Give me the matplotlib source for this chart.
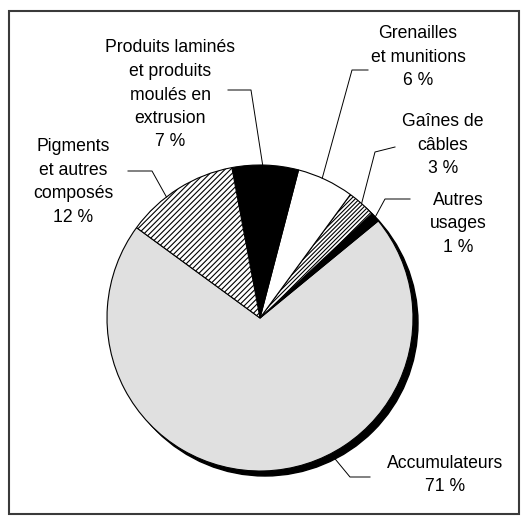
"""
Pie chart: usages du plomb (reproduction).
"""

import numpy as np
import matplotlib
matplotlib.use('Agg')
import matplotlib.pyplot as plt
from matplotlib.patches import Circle, Rectangle

plt.rcParams['font.family'] = ['Liberation Sans', 'DejaVu Sans']
plt.rcParams['hatch.linewidth'] = 0.8

# data (counter-clockwise order, starting at the Accumulateurs/Pigments border)
labels = ['Accumulateurs', 'Autres\nusages', 'Gaînes de\ncâbles',
          'Grenailles\net munitions', 'Produits laminés\net produits\nmoulés en\nextrusion',
          'Pigments\net autres\ncomposés']
shares = [71, 1, 3, 6, 7, 12]
colors = ['#e0e0e0', 'black', 'white', 'white', 'black', 'white']
hatches = [None, None, '////////', None, None, '//////']

W, H = 527, 516
cx, cy, r = 260, H - 318, 153
start = 143.8

fig = plt.figure(figsize=(W / 100, H / 100), dpi=100)
ax = fig.add_axes([0, 0, 1, 1])

# shadow
ax.add_patch(Circle((cx + 5, cy - 5), r, color='black', zorder=0))

wedges, _ = ax.pie(shares, colors=colors, startangle=start, counterclock=True,
                   center=(cx, cy), radius=r, frame=True,
                   wedgeprops=dict(edgecolor='black', linewidth=0.8))
for w, h in zip(wedges, hatches):
    if h:
        w.set_hatch(h)
ax.set_xlim(0, W)
ax.set_ylim(0, H)
ax.axis('off')

# label layout: text centre (px, top-down), edge angle, leader path (px, top-down)
layout = [
    ((445, 475), 298.0, [(350, 477), (370, 477)], 6),
    ((458, 224), 41.2, [(385, 199), (410, 199)], 0),
    ((443, 145), 48.4, [(375, 152), (395, 147)], 0),
    ((418, 57), 66.0, [(352, 70), (368, 70)], 0),
    ((170, 95), 89.0, [(251, 90), (228, 90)], 0),
    ((73, 182), 127.7, [(152, 171), (128, 171)], 0),
]

for lab, pct, ((tx, ty), ang, path, extra) in zip(labels, shares, layout):
    ax.text(tx, H - ty, f'{lab}\n{pct} %', ha='center', va='center',
            fontsize=12.7, linespacing=1.5, zorder=3)
    a = np.deg2rad(ang)
    ex = cx + (r + extra) * np.cos(a)
    ey = cy + (r + extra) * np.sin(a)
    xs = [ex] + [p[0] for p in path]
    ys = [ey] + [H - p[1] for p in path]
    ax.plot(xs, ys, color='black', linewidth=0.7, zorder=2)

# frame
ax.add_patch(Rectangle((9, H - 514), 510, 503, fill=False,
                       edgecolor='#3a3a3a', linewidth=1.5, zorder=4))

fig.savefig('out.png', dpi=100)
